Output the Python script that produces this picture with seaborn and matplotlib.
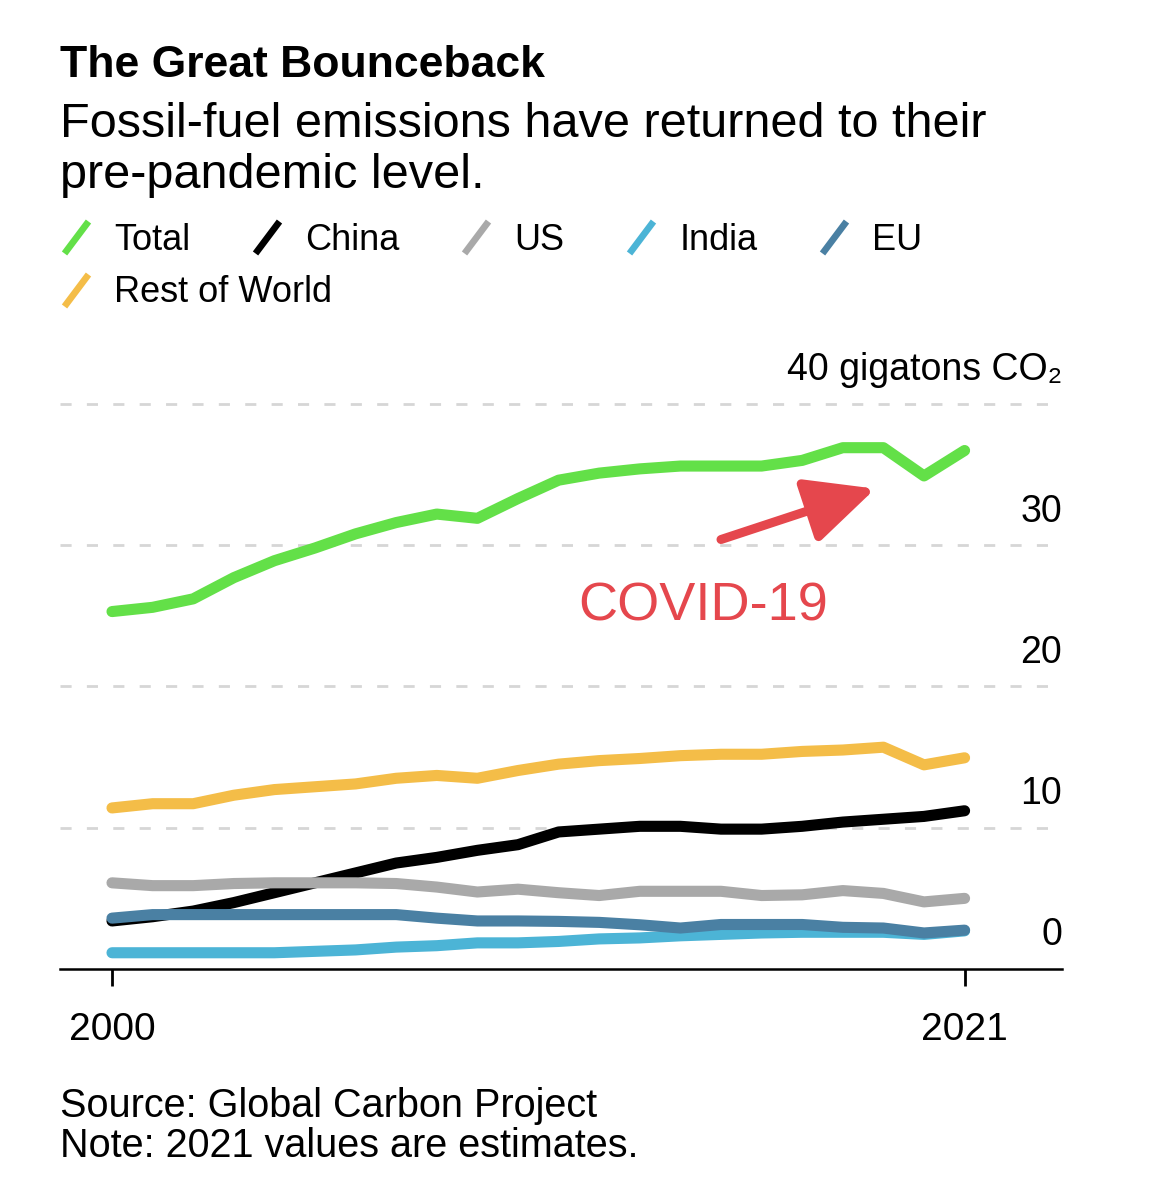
import pandas as pd
import seaborn as sns
import matplotlib.pyplot as plt
import matplotlib.transforms as mtransforms
from matplotlib.lines import Line2D

# data (gigatons CO2)
years = list(range(2000, 2022))
total = [25.3, 25.6, 26.2, 27.7, 28.9, 29.8, 30.8, 31.6, 32.2, 31.9, 33.3,
         34.6, 35.1, 35.4, 35.6, 35.6, 35.6, 36.0, 36.9, 36.9, 34.9, 36.7]
china = [3.4, 3.7, 4.1, 4.7, 5.4, 6.1, 6.8, 7.5, 7.9, 8.4, 8.8,
         9.7, 9.9, 10.1, 10.1, 9.9, 9.9, 10.1, 10.4, 10.6, 10.8, 11.2]
us = [6.1, 5.9, 5.9, 6.05, 6.1, 6.1, 6.1, 6.05, 5.8, 5.45, 5.65,
      5.4, 5.2, 5.5, 5.5, 5.5, 5.2, 5.25, 5.55, 5.35, 4.75, 5.0]
india = [1.15, 1.15, 1.15, 1.15, 1.15, 1.25, 1.35, 1.55, 1.65, 1.85, 1.85,
         1.95, 2.13, 2.2, 2.35, 2.45, 2.55, 2.6, 2.6, 2.6, 2.45, 2.7]
eu = [3.6, 3.85, 3.85, 3.85, 3.85, 3.85, 3.85, 3.85, 3.6, 3.4, 3.4,
      3.37, 3.3, 3.13, 2.9, 3.15, 3.15, 3.15, 2.95, 2.9, 2.55, 2.75]
rest = [11.4, 11.7, 11.7, 12.3, 12.7, 12.9, 13.1, 13.5, 13.7, 13.5, 14.05,
        14.5, 14.75, 14.9, 15.1, 15.2, 15.2, 15.4, 15.5, 15.7, 14.45, 14.95]

series = {'Total': total, 'China': china, 'US': us, 'India': india,
          'EU': eu, 'Rest of World': rest}
colors = {'Total': '#63e048', 'China': '#000000', 'US': '#a9a9a9',
          'India': '#4cb4d6', 'EU': '#4a80a3', 'Rest of World': '#f4bd48'}
draw_order = ['China', 'US', 'India', 'EU', 'Rest of World', 'Total']
legend_row1 = ['Total', 'China', 'US', 'India', 'EU']
legend_row2 = ['Rest of World']

yticks = [0, 10, 20, 30, 40]
ylabels = ['0', '10', '20', '30', '40 gigatons CO\u2082']
xticks = [2000, 2021]

df = pd.concat([pd.DataFrame({'year': years, 'region': k, 'value': v})
                for k, v in series.items()], ignore_index=True)

sns.set_theme(style='white')
plt.rcParams['font.family'] = ['Liberation Sans', 'DejaVu Sans']
plt.rcParams['text.color'] = 'black'

fig = plt.figure(figsize=(11.5, 12), dpi=100)
ax = fig.add_axes([0.0522, 0.1925, 0.8713, 0.4827])

sns.lineplot(data=df, x='year', y='value', hue='region', hue_order=draw_order,
             palette=colors, linewidth=8, legend=False, ax=ax,
             solid_capstyle='round', solid_joinstyle='round', clip_on=False)

ax.set_xlim(1998.72, 2023.4)
ax.set_ylim(0, 41)
ax.set_xlabel('')
ax.set_ylabel('')

# grid + axis styling
ax.set_yticks([10, 20, 30, 40])
ax.tick_params(axis='y', length=0, labelleft=False, labelright=False)
ax.grid(axis='y', color='#d6d6d6', linewidth=2, linestyle=(0, (4, 5.5)))
ax.grid(axis='x', visible=False)
for s in ['left', 'right', 'top']:
    ax.spines[s].set_visible(False)
ax.spines['bottom'].set_color('black')
ax.spines['bottom'].set_linewidth(1.8)

ax.set_xticks(xticks)
ax.set_xticklabels([str(x) for x in xticks])
ax.tick_params(axis='x', bottom=True, length=12, width=2, color='black',
               pad=19, labelsize=28, labelcolor='black', direction='out')

# y labels sit above their gridlines, right aligned
off = mtransforms.ScaledTranslation(0, 17 / 72, fig.dpi_scale_trans)
for v, lab in zip(yticks, ylabels):
    ax.text(1.0, v, lab, transform=ax.get_yaxis_transform() + off,
            ha='right', va='baseline', fontsize=27, color='black')

# covid annotation
ax.annotate('', xy=(2018.8, 34.0), xytext=(2015.0, 30.4),
            arrowprops=dict(arrowstyle='-|>,head_length=4.2,head_width=2.0',
                            mutation_scale=10, lw=6.5, color='#e5474d',
                            shrinkA=0, shrinkB=0))
ax.text(2014.57, 24.66, 'COVID-19', color='#e5474d', fontsize=39,
        ha='center', va='baseline')

# titles
fig.text(0.0522, 1 - 77 / 1200, 'The Great Bounceback', fontsize=32,
         fontweight='heavy', va='baseline', ha='left')
fig.text(0.0522, 1 - 137 / 1200, 'Fossil-fuel emissions have returned to their',
         fontsize=35, va='baseline', ha='left')
fig.text(0.0522, 1 - 188 / 1200, 'pre-pandemic level.', fontsize=35,
         va='baseline', ha='left')

# legend with slanted strokes
def handle(name):
    return Line2D([0], [0], linestyle='none', marker=[(-0.75, -1), (0.75, 1)],
                  markersize=23, markeredgewidth=4.8, markerfacecolor='none',
                  markeredgecolor=colors[name], label=name)

legend_kw = dict(loc='center left', frameon=False, fontsize=26, borderpad=0,
                 borderaxespad=0, handlelength=0.9, handletextpad=0.6,
                 columnspacing=1.68)
fig.legend(handles=[handle(n) for n in legend_row1], ncol=5,
           bbox_to_anchor=(0.0522, 1 - 240 / 1200), **legend_kw)
fig.legend(handles=[handle(n) for n in legend_row2], ncol=1,
           bbox_to_anchor=(0.0522, 1 - 293 / 1200), **legend_kw)

# footer
fig.text(0.0522, 1 - 1117 / 1200, 'Source: Global Carbon Project',
         fontsize=28.5, va='baseline', ha='left')
fig.text(0.0522, 1 - 1157 / 1200, 'Note: 2021 values are estimates.',
         fontsize=28.5, va='baseline', ha='left')

fig.savefig('out.png', dpi=100, facecolor='white')
